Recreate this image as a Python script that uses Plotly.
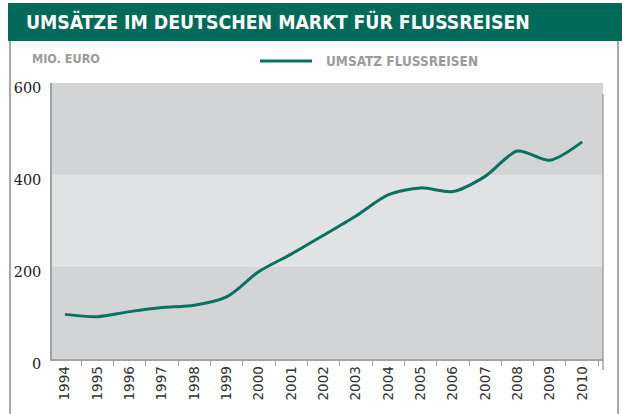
import plotly.graph_objects as go

# ---- data ----
years = [str(y) for y in range(1994, 2011)]
umsatz = [97, 92, 103, 112, 117, 135, 190, 228, 269, 311, 357, 372, 364, 397, 452, 432, 472]
series_name = "UMSATZ FLUSSREISEN"
title_text = "UMSÄTZE IM DEUTSCHEN MARKT FÜR FLUSSREISEN"
unit_text = "MIO. EURO"
y_ticks = [0, 200, 400, 600]

# ---- style ----
W, H = 622, 414
L, R, T, B = 52, 603, 83, 359
GREEN = "#006a58"
LINE = "#077260"
DARK = "#d3d4d6"
LIGHT = "#e1e2e4"
AXIS = "#a3a3a3"
COND = "DejaVu Sans Condensed, Liberation Sans Narrow, Roboto, sans-serif"


def px(x):
    return (x - L) / (R - L)


def py(y):
    return (B - y) / (B - T)


fig = go.Figure()
fig.add_trace(go.Scatter(
    x=years, y=umsatz, mode="lines", name=series_name,
    line=dict(color=LINE, width=3, shape="spline", smoothing=0.8),
    showlegend=False, hoverinfo="x+y",
))

shapes = [
    # bands
    dict(type="rect", xref="paper", yref="y", x0=0, x1=1, y0=0, y1=200,
         fillcolor=DARK, line_width=0, layer="below"),
    dict(type="rect", xref="paper", yref="y", x0=0, x1=1, y0=200, y1=400,
         fillcolor=LIGHT, line_width=0, layer="below"),
    dict(type="rect", xref="paper", yref="y", x0=0, x1=1, y0=400, y1=600,
         fillcolor=DARK, line_width=0, layer="below"),
    # header
    dict(type="rect", xref="paper", yref="paper", x0=px(8), x1=px(623), y0=py(41), y1=py(3),
         fillcolor=GREEN, line_width=0),
    # frame lines
    dict(type="line", xref="paper", yref="paper", x0=px(10), x1=px(10), y0=py(41), y1=py(415),
         line=dict(color="#a8a8a8", width=2)),
    dict(type="line", xref="paper", yref="paper", x0=px(618), x1=px(618), y0=py(41), y1=py(415),
         line=dict(color="#a8a8a8", width=2)),
    # right plot edge line
    dict(type="line", xref="paper", yref="paper", x0=px(603), x1=px(603), y0=py(94), y1=py(370),
         line=dict(color=AXIS, width=1.5)),
    # legend sample
    dict(type="line", xref="paper", yref="paper", x0=px(260), x1=px(312), y0=py(61), y1=py(61),
         line=dict(color=LINE, width=3)),
]

annotations = [
    dict(text=title_text, xref="paper", yref="paper", x=px(24), y=py(22),
         xanchor="left", yanchor="middle", showarrow=False,
         font=dict(family=COND, size=19.3, color="white", weight="bold")),
    dict(text=unit_text, xref="paper", yref="paper", x=px(30), y=py(58),
         xanchor="left", yanchor="middle", showarrow=False,
         font=dict(family=COND, size=12.5, color="#9b9b9b", weight="bold")),
    dict(text=series_name, xref="paper", yref="paper", x=px(324), y=py(61),
         xanchor="left", yanchor="middle", showarrow=False,
         font=dict(family=COND, size=13.5, color="#9b9b9b", weight="bold")),
]

fig.update_layout(
    width=W, height=H,
    margin=dict(l=L, r=W - R, t=T, b=H - B, pad=0),
    paper_bgcolor="white", plot_bgcolor=DARK,
    shapes=shapes, annotations=annotations,
    xaxis=dict(
        type="category", range=[-0.4, 16.645],
        tickson="boundaries", ticks="outside", ticklen=5, tickcolor=AXIS, tickwidth=1,
        tickangle=-90, showgrid=False, zeroline=False,
        showline=True, linecolor=AXIS, linewidth=1.5,
        tickfont=dict(family="DejaVu Sans, Verdana, sans-serif", size=13.5, color="#333333"),
    ),
    yaxis=dict(
        range=[0, 600], tickvals=y_ticks, showgrid=False, zeroline=False,
        showline=True, linecolor=AXIS, linewidth=1.5, ticks="",
        ticklabelshift=5, ticklabelstandoff=6,
        tickfont=dict(family="DejaVu Serif, Liberation Serif, serif", size=14.5, color="#222222"),
    ),
)

fig.write_html(
    "out.html",
    config={"displayModeBar": False},
    post_script="document.body.style.margin='0';document.body.style.overflow='hidden';",
)
